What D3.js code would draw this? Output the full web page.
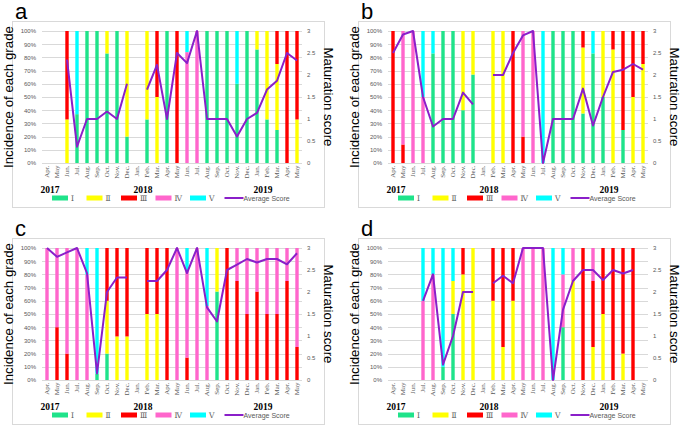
<!DOCTYPE html>
<html>
<head>
<meta charset="utf-8">
<script src="https://cdn.jsdelivr.net/npm/d3@7"></script>
<style>
  body { margin: 0; background: #fff; }
  svg { display: block; }
</style>
</head>
<body>
<svg id="chart" width="685" height="428"></svg>
<script>
// months shown on every panel, Apr 2017 .. May 2019
var months = ['Apr.','May','Jun.','Jul.','Aug.','Sep.','Oct.','Nov.','Dec.',
              'Jan.','Feb.','Mar.','Apr.','May','Jun.','Jul.','Aug.','Sep.','Oct.','Nov.','Dec.',
              'Jan.','Feb.','Mar.','Apr.','May'];
var years = ['2017', '2018', '2019'];
var grades = ['Ⅰ', 'Ⅱ', 'Ⅲ', 'Ⅳ', 'Ⅴ'];
var pctTicks = [0,10,20,30,40,50,60,70,80,90,100];
var scoreTicks = [0,0.5,1,1.5,2,2.5,3];

// panel a
var aI   = [0,0,0,37,100,100,83,100,20,0,33,0,100,0,0,0,100,100,100,60,100,86,33,25,0,0];
var aII  = [0,0,33,0,0,0,17,0,80,0,67,50,0,0,0,0,0,0,0,0,0,14,67,50,0,33];
var aIII = [0,0,67,0,0,0,0,0,0,0,0,50,0,100,0,0,0,0,0,0,0,0,0,25,100,67];
var aIV  = [0,0,0,0,0,0,0,0,0,0,0,0,0,0,84,100,0,0,0,0,0,0,0,0,0,0];
var aV   = [0,0,0,63,0,0,0,0,0,0,0,0,0,0,16,0,0,0,0,40,0,0,0,0,0,0];
var aScore = [null,null,2.35,0.37,1,1,1.17,1,1.8,null,1.67,2.23,1,2.5,2.27,3,1,1,1,0.6,1,1.14,1.67,1.87,2.5,2.33];

// panel b
var bI   = [0,0,0,0,83,100,100,40,67,0,0,0,0,0,0,0,100,100,100,37.5,83,50,0,25,0,0];
var bII  = [0,0,0,0,0,0,0,60,33,0,100,100,0,0,0,0,0,0,0,50,0,50,86,0,50,75];
var bIII = [100,14,0,0,0,0,0,0,0,0,0,0,100,20,0,0,0,0,0,12.5,0,0,14,75,50,25];
var bIV  = [0,86,100,50,0,0,0,0,0,0,0,0,0,80,100,0,0,0,0,0,0,0,0,0,0,0];
var bV   = [0,0,0,50,17,0,0,0,0,0,0,0,0,0,0,100,0,0,0,0,17,0,0,0,0,0];
var bScore = [2.5,2.92,3,1.5,0.83,1,1,1.6,1.33,null,2,2,2.5,2.9,3,0,1,1,1,1.69,0.85,1.5,2.07,2.12,2.25,2.12];

// panel c
var cI   = [0,0,0,0,0,5,20,0,0,0,0,0,0,0,0,0,0,67,0,0,0,0,0,0,0,0];
var cII  = [0,0,0,0,0,0,40,33,33,0,50,50,0,0,0,0,0,33,0,0,0,0,0,0,0,0];
var cIII = [0,40,20,0,0,0,40,67,67,0,50,50,100,0,17,0,0,0,100,75,50,67,50,50,75,25];
var cIV  = [100,60,80,100,80,0,0,0,0,0,0,0,0,100,66,100,56,0,0,25,50,33,50,50,25,75];
var cV   = [0,0,0,0,20,95,0,0,0,0,0,0,0,0,17,0,44,0,0,0,0,0,0,0,0,0];
var cScore = [3,2.8,2.9,3,2.43,0.15,2,2.33,2.33,null,2.25,2.25,2.5,3,2.43,3,1.65,1.33,2.5,2.62,2.75,2.67,2.75,2.75,2.63,2.88];

// panel d
var dI   = [0,0,0,0,0,10,50,0,0,0,0,0,0,0,0,0,0,40,0,0,0,0,0,0,0,0];
var dII  = [0,0,0,0,0,0,25,80,100,0,60,25,60,0,0,0,0,0,75,0,25,50,0,20,0,0];
var dIII = [0,0,0,0,0,0,0,20,0,0,40,75,40,0,0,0,0,0,0,100,50,50,100,80,100,0];
var dIV  = [0,0,0,60,80,0,0,0,0,0,0,0,0,100,100,100,0,40,25,0,25,0,0,0,0,0];
var dV   = [0,0,0,40,20,90,25,0,0,0,0,0,0,0,0,0,100,20,0,0,0,0,0,0,0,0];
var dScore = [null,null,null,1.8,2.4,0.35,1,2,2,null,2.2,2.37,2.2,3,3,3,0,1.6,2.25,2.5,2.5,2.27,2.5,2.42,2.5,null];

var colors = ['#1fe38a', '#ffff00', '#ff0000', '#ff66cc', '#00ffff'];
var lineColor = '#8a1fc9';
var gridColor = '#d9d9d9';
var labelColor = '#595959';
var sans = 'Liberation Sans, Arial, sans-serif';
var serif = 'Liberation Serif, Times New Roman, serif';

var svg = d3.select('#chart');

var panels = [
    {letter: 'a', dx: 0,   dy: 0,   grades: [aI, aII, aIII, aIV, aV], score: aScore},
    {letter: 'b', dx: 346, dy: 0,   grades: [bI, bII, bIII, bIV, bV], score: bScore},
    {letter: 'c', dx: 0,   dy: 217, grades: [cI, cII, cIII, cIV, cV], score: cScore},
    {letter: 'd', dx: 346, dy: 217, grades: [dI, dII, dIII, dIV, dV], score: dScore}
];

panels.forEach(drawPanel);

function drawPanel(p) {
    var g = svg.append('g').attr('transform', 'translate(' + p.dx + ',' + p.dy + ')');

    var x = d3.scaleBand().domain(d3.range(months.length)).range([42, 302]);
    var y = d3.scaleLinear().domain([0, 100]).range([163, 31]);
    var y2 = d3.scaleLinear().domain([0, 3]).range([163, 31]);

    // frame
    g.append('rect')
        .attr('x', 12.5).attr('y', 21.5)
        .attr('width', 312).attr('height', 186)
        .attr('fill', 'none').attr('stroke', gridColor).attr('stroke-width', 1);

    g.append('text')
        .attr('x', 15).attr('y', 19)
        .attr('font-family', sans)
        .attr('font-size', 22)
        .text(p.letter);

    // gridlines
    g.selectAll('.grid').data(pctTicks).enter().append('line')
        .attr('x1', 42).attr('x2', 302)
        .attr('y1', function(d){ return Math.round(y(d)) + 0.5; })
        .attr('y2', function(d){ return Math.round(y(d)) + 0.5; })
        .attr('stroke', gridColor).attr('stroke-width', 1);

    // left axis
    var left = g.append('g').attr('transform', 'translate(42,0)')
        .call(d3.axisLeft(y).tickValues(pctTicks).tickSize(0).tickPadding(6)
            .tickFormat(function(d){ return d + '%'; }));
    left.select('.domain').remove();
    left.selectAll('text').attr('fill', labelColor)
        .attr('font-family', sans).attr('font-size', 6);

    // right axis
    var right = g.append('g').attr('transform', 'translate(302,0)')
        .call(d3.axisRight(y2).tickValues(scoreTicks).tickSize(0).tickPadding(5)
            .tickFormat(function(d){ return d; }));
    right.select('.domain').remove();
    right.selectAll('text').attr('fill', labelColor)
        .attr('font-family', sans).attr('font-size', 6);

    // month labels
    var bottom = g.append('g').attr('transform', 'translate(0,163)')
        .call(d3.axisBottom(x).tickSize(0).tickFormat(function(i){ return months[i]; }));
    bottom.select('.domain').remove();
    bottom.selectAll('text')
        .attr('fill', labelColor)
        .attr('font-family', serif)
        .attr('font-size', 7)
        .attr('transform', 'rotate(-90)')
        .attr('text-anchor', 'end')
        .attr('x', -2.5).attr('y', 0).attr('dy', '0.33em');

    // year labels
    var yearPos = [0.8, 10.1, 22.1];
    g.selectAll('.year').data(years).enter().append('text')
        .attr('x', function(d, i){ return x(0) + yearPos[i] * x.step(); })
        .attr('y', 192.5)
        .attr('text-anchor', 'middle')
        .attr('font-family', serif)
        .attr('font-weight', 'bold')
        .attr('font-size', 9.5)
        .text(function(d){ return d; });

    // stacked bars
    var rows = months.map(function(m, i){
        var r = {i: i};
        grades.forEach(function(k, j){ r[j] = p.grades[j][i]; });
        return r;
    });
    var series = d3.stack().keys([0,1,2,3,4])(rows);
    var bw = 3.4;
    g.selectAll('.series').data(series).enter().append('g')
        .attr('fill', function(d, j){ return colors[j]; })
        .selectAll('rect').data(function(d){ return d.filter(function(s){ return s[1] > s[0]; }); })
        .enter().append('rect')
        .attr('x', function(d){ return x(d.data.i) + x.bandwidth() / 2 - bw / 2; })
        .attr('width', bw)
        .attr('y', function(d){ return y(d[1]); })
        .attr('height', function(d){ return y(d[0]) - y(d[1]); });

    // average score line
    var line = d3.line()
        .defined(function(d){ return d != null; })
        .x(function(d, i){ return x(i) + x.bandwidth() / 2; })
        .y(function(d){ return y2(d); });
    g.append('path').datum(p.score)
        .attr('d', line)
        .attr('fill', 'none')
        .attr('stroke', lineColor)
        .attr('stroke-width', 2)
        .attr('stroke-linejoin', 'round');

    // axis titles
    g.append('text')
        .attr('transform', 'translate(13,97) rotate(-90)')
        .attr('text-anchor', 'middle')
        .attr('font-family', sans)
        .attr('font-size', 13.3)
        .text('Incidence of each grade');
    g.append('text')
        .attr('transform', 'translate(324,97) rotate(90)')
        .attr('text-anchor', 'middle')
        .attr('font-family', sans)
        .attr('font-size', 13.3)
        .text('Maturation score');

    // legend
    var lg = g.append('g').attr('transform', 'translate(52,198)');
    grades.forEach(function(k, j){
        var item = lg.append('g').attr('transform', 'translate(' + (j * 34.5) + ',0)');
        item.append('rect').attr('x', 0).attr('y', -2.5).attr('width', 16).attr('height', 5)
            .attr('fill', colors[j]);
        item.append('text').attr('x', 19).attr('y', 2.8)
            .attr('fill', labelColor)
            .attr('font-family', 'DejaVu Serif, serif')
            .attr('font-size', 7.5)
            .text(k);
    });
    var li = lg.append('g').attr('transform', 'translate(' + (5 * 34.5) + ',0)');
    li.append('line').attr('x1', 0).attr('x2', 19).attr('y1', 0).attr('y2', 0)
        .attr('stroke', lineColor).attr('stroke-width', 2);
    li.append('text').attr('x', 19).attr('y', 2.5)
        .attr('fill', labelColor)
        .attr('font-family', sans)
        .attr('font-size', 7)
        .text('Average Score');
}
</script>
</body>
</html>
